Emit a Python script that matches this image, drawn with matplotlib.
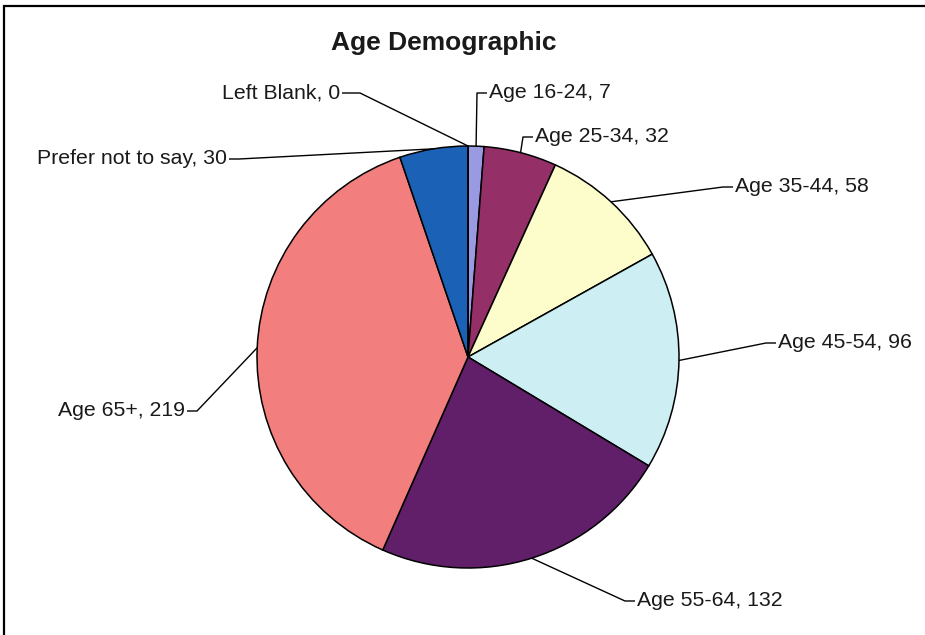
import numpy as np
import matplotlib
matplotlib.use("Agg")
import matplotlib.pyplot as plt

plt.rcParams['font.family'] = ['Liberation Sans', 'DejaVu Sans']

# data (clockwise from 12 o'clock)
categories = ['Age 16-24', 'Age 25-34', 'Age 35-44', 'Age 45-54',
              'Age 55-64', 'Age 65+', 'Prefer not to say', 'Left Blank']
values = [7, 32, 58, 96, 132, 219, 30, 0]
colors = ['#9a9ae2', '#942f68', '#fdfdcb', '#cdeef2',
          '#611f6a', '#f27e7e', '#1b62b6', '#ccccff']

# label layout in pixels (x of text edge, y from top, alignment)
label_x = [489, 535, 735, 778, 637, 185, 227, 340]
label_y = [93, 137, 187, 343, 601, 411, 159, 93]
label_ha = ['left', 'left', 'left', 'left', 'left', 'right', 'right', 'right']

W, H = 925, 635
fig = plt.figure(figsize=(W / 100, H / 100), dpi=100)
ax = fig.add_axes([0, 0, 1, 1])

cx, cy, r = 468, H - 357, 211
wedges, _ = ax.pie(values, colors=colors, startangle=90, counterclock=False,
                   center=(cx, cy), radius=r, frame=True,
                   wedgeprops=dict(edgecolor='black', linewidth=1.1))
ax.set_xlim(0, W)
ax.set_ylim(0, H)
ax.set_aspect('equal')
ax.axis('off')

for w, cat, val, tx, ty, ha in zip(wedges, categories, values, label_x, label_y, label_ha):
    mid = np.deg2rad((w.theta1 + w.theta2) / 2)
    sx, sy = cx + r * np.cos(mid), cy + r * np.sin(mid)
    d = 1 if ha == 'left' else -1
    ty_d = H - ty
    if cat == 'Left Blank':
        elbow = tx + 20
    else:
        elbow = tx - 12 * d
    ax.plot([sx, elbow, tx - 2 * d], [sy, ty_d, ty_d], color='black', lw=1.0,
            solid_capstyle='butt', zorder=3)
    ax.text(tx, ty_d, f'{cat}, {val}', ha=ha, va='center', fontsize=15.3,
            color='#1a1a1a')

ax.text(444, H - 43, 'Age Demographic', ha='center', va='center',
        fontsize=19, fontweight='bold', color='#1a1a1a')

# frame (top and left edges of the cropped chart border)
ax.plot([4, 4, W], [0, H - 6, H - 6], color='black', lw=1.6,
        solid_joinstyle='miter')

fig.savefig('out.png', dpi=100)
